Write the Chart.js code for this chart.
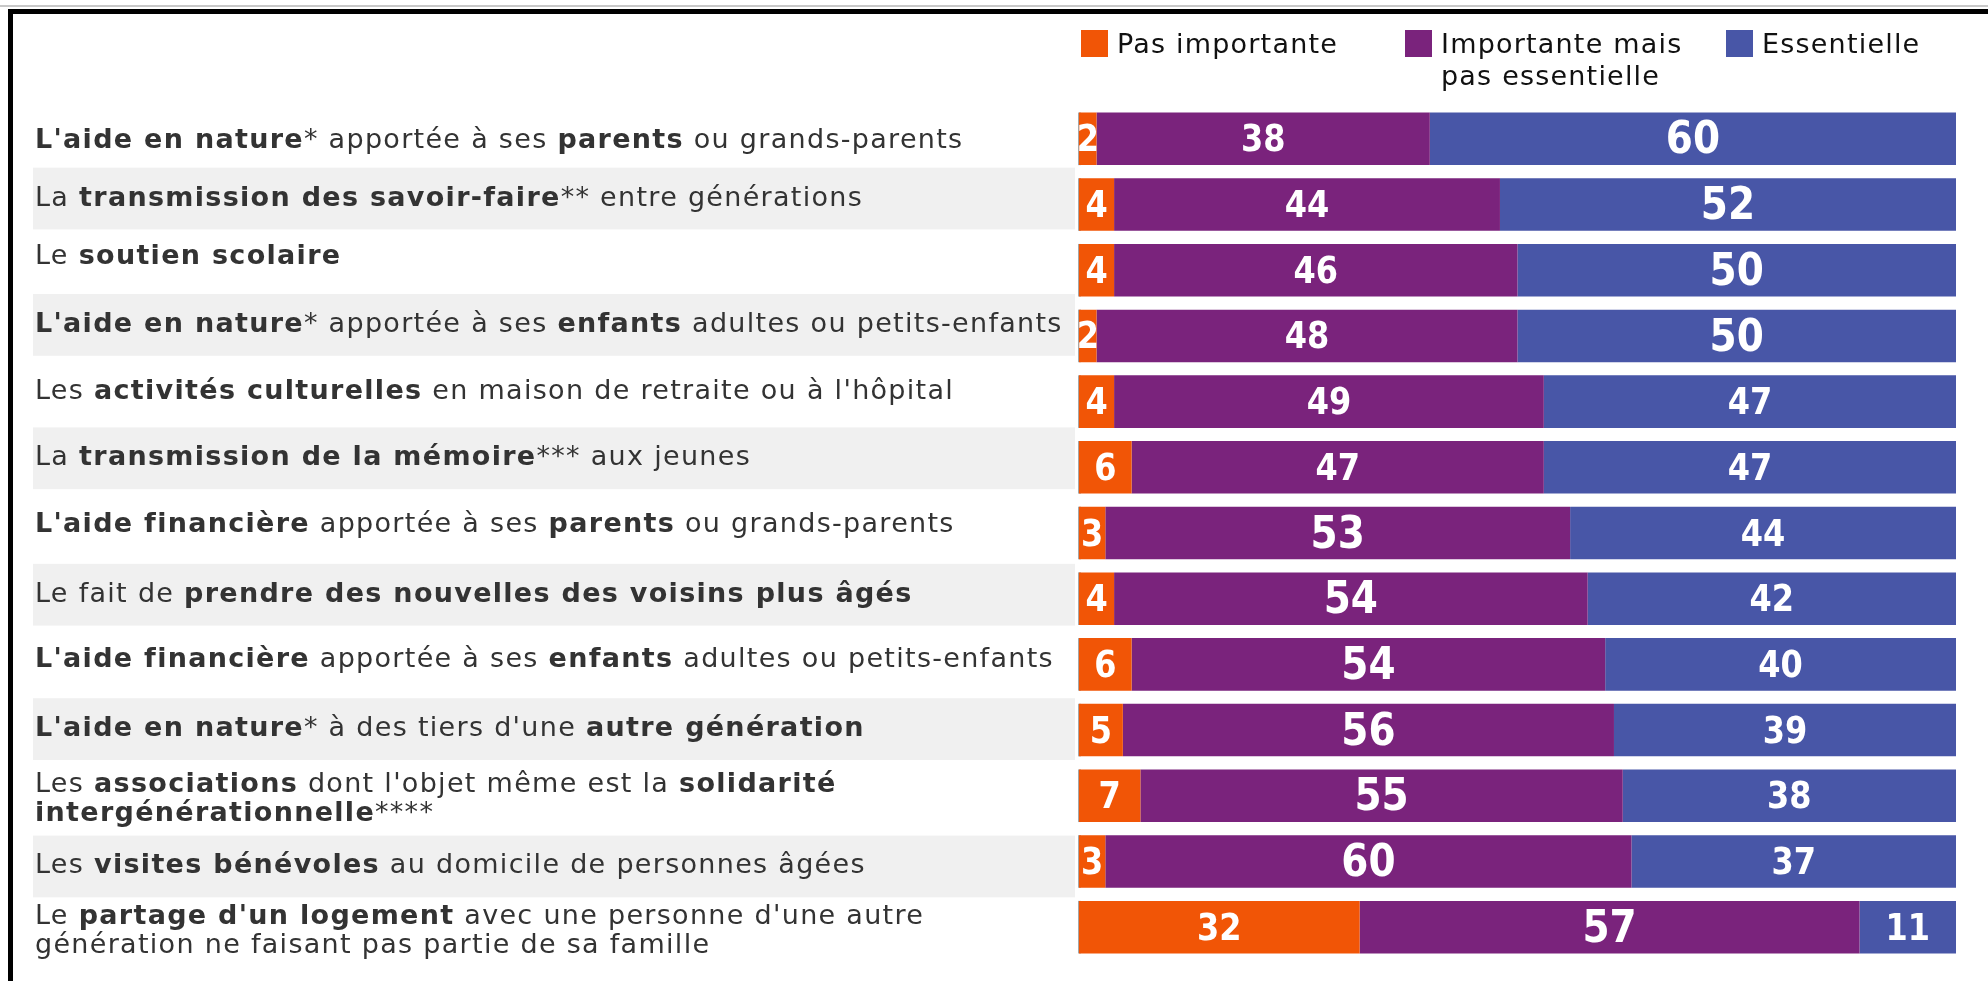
<!DOCTYPE html>
<html>
<head>
<meta charset="utf-8">
<script src="https://cdn.jsdelivr.net/npm/chart.js@4.4.0/dist/chart.umd.min.js"></script>
<style>
  html, body { margin: 0; padding: 0; background: #fff; }
  #wrap { position: relative; width: 1988px; height: 981px; overflow: hidden; }
  #topline { position: absolute; left: 0; top: 5px; width: 1988px; height: 2px; background: #c8c8c8; }
  #frame { position: absolute; left: 8px; top: 9px; width: 2000px; height: 1000px; border-top: 5px solid #000; border-left: 5px solid #000; }
  canvas { position: absolute; left: 0; top: 0; }
</style>
</head>
<body>
<div id="wrap">
  <div id="topline"></div>
  <div id="frame"></div>
  <canvas id="chart" width="1988" height="981"></canvas>
</div>
<script>
// Category labels, <b> marks the bold parts, \n a line break
const categories = [
  "<b>L'aide en nature</b>* apportée à ses <b>parents</b> ou grands-parents",
  "La <b>transmission des savoir-faire</b>** entre générations",
  "Le <b>soutien scolaire</b>",
  "<b>L'aide en nature</b>* apportée à ses <b>enfants</b> adultes ou petits-enfants",
  "Les <b>activités culturelles</b> en maison de retraite ou à l'hôpital",
  "La <b>transmission de la mémoire</b>*** aux jeunes",
  "<b>L'aide financière</b> apportée à ses <b>parents</b> ou grands-parents",
  "Le fait de <b>prendre des nouvelles des voisins plus âgés</b>",
  "<b>L'aide financière</b> apportée à ses <b>enfants</b> adultes ou petits-enfants",
  "<b>L'aide en nature</b>* à des tiers d'une <b>autre génération</b>",
  "Les <b>associations</b> dont l'objet même est la <b>solidarité\nintergénérationnelle</b>****",
  "Les <b>visites bénévoles</b> au domicile de personnes âgées",
  "Le <b>partage d'un logement</b> avec une personne d'une autre\ngénération ne faisant pas partie de sa famille"
];

const pasImportante = [2, 4, 4, 2, 4, 6, 3, 4, 6, 5, 7, 3, 32];
const importanteMais = [38, 44, 46, 48, 49, 47, 53, 54, 54, 56, 55, 60, 57];
const essentielle = [60, 52, 50, 50, 47, 47, 44, 42, 40, 39, 38, 37, 11];

const seriesNames = ['Pas importante', 'Importante mais\npas essentielle', 'Essentielle'];
const seriesColors = ['#f15506', '#7a237c', '#4856a7'];

// small vertical nudges of the row labels, the source table rows are not even
const labelShift = [2, -6, -13, -11, -10, -9, -8, -4, -4, -1, 4, 5, 4];

const LABEL_FONT = '"DejaVu Sans", Verdana, sans-serif';
const LABEL_SIZE = 27;
const SPACING = 1.3; // px between letters, Verdana-like width

function setSpacing(ctx, px) {
  if ('letterSpacing' in ctx) ctx.letterSpacing = px + 'px';
}

function drawRich(ctx, text, x, y, lineHeight) {
  const lines = text.split('\n');
  let bold = false;
  const top = y - (lines.length - 1) * lineHeight / 2;
  lines.forEach((line, li) => {
    let cx = x;
    line.split(/(<b>|<\/b>)/).forEach(p => {
      if (p === '<b>') { bold = true; return; }
      if (p === '</b>') { bold = false; return; }
      if (!p) return;
      ctx.font = (bold ? 'bold ' : '') + LABEL_SIZE + 'px ' + LABEL_FONT;
      ctx.fillText(p, cx, top + li * lineHeight);
      cx += ctx.measureText(p).width;
    });
  });
}

// Row labels + grey banding on the left
const rowLabels = {
  id: 'rowLabels',
  beforeDatasetsDraw(chart) {
    const ctx = chart.ctx;
    const y = chart.scales.y;
    const step = Math.abs(y.getPixelForValue(1) - y.getPixelForValue(0));
    ctx.save();
    chart.data.labels.forEach((lab, i) => {
      const cy = y.getPixelForValue(i) + labelShift[i];
      if (i % 2 === 1) {
        ctx.fillStyle = '#f0f0f0';
        ctx.fillRect(33, cy - step * 0.47, 1042, step * 0.94);
      }
    });
    ctx.fillStyle = '#333333';
    ctx.textAlign = 'left';
    ctx.textBaseline = 'middle';
    setSpacing(ctx, SPACING);
    chart.data.labels.forEach((lab, i) => {
      drawRich(ctx, lab, 35, y.getPixelForValue(i) + labelShift[i], 29);
    });
    // grey axis stub peeking out at the left of each bar
    ctx.fillStyle = '#a6a6a6';
    chart.getDatasetMeta(0).data.forEach(bar => {
      ctx.fillRect(chart.chartArea.left - 1, bar.y - bar.height / 2, 3, bar.height);
    });
    ctx.restore();
  }
};

// White value labels inside the segments (digits are a bit tall in the source)
const valueLabels = {
  id: 'valueLabels',
  afterDatasetsDraw(chart) {
    const ctx = chart.ctx;
    ctx.save();
    ctx.fillStyle = '#ffffff';
    ctx.textAlign = 'center';
    ctx.textBaseline = 'middle';
    chart.data.datasets.forEach((ds, di) => {
      chart.getDatasetMeta(di).data.forEach((bar, i) => {
        const v = ds.data[i];
        const size = v >= 50 ? 39 : 32;
        ctx.font = 'bold ' + size + 'px ' + LABEL_FONT;
        ctx.save();
        ctx.translate((bar.x + bar.base) / 2, bar.y + 3);
        ctx.scale(1, 1.15);
        ctx.fillText(String(v), 0, 0);
        ctx.restore();
      });
    });
    ctx.restore();
  }
};

// Legend drawn by hand to keep the two-line entry
const topLegend = {
  id: 'topLegend',
  afterDraw(chart) {
    const ctx = chart.ctx;
    const xs = [1081, 1405, 1726];
    ctx.save();
    ctx.textAlign = 'left';
    ctx.textBaseline = 'alphabetic';
    ctx.font = LABEL_SIZE + 'px ' + LABEL_FONT;
    setSpacing(ctx, 1.2);
    chart.data.datasets.forEach((ds, i) => {
      ctx.fillStyle = ds.backgroundColor;
      ctx.fillRect(xs[i], 30, 27, 27);
      ctx.fillStyle = '#111111';
      ds.label.split('\n').forEach((line, li) => {
        ctx.fillText(line, xs[i] + 36, 53 + li * 32);
      });
    });
    ctx.restore();
  }
};

const ctx = document.getElementById('chart').getContext('2d');
new Chart(ctx, {
  type: 'bar',
  data: {
    labels: categories,
    datasets: [pasImportante, importanteMais, essentielle].map((d, i) => ({
      label: seriesNames[i],
      data: d,
      backgroundColor: seriesColors[i],
      borderWidth: 0,
      barPercentage: 0.8,
      categoryPercentage: 1
    }))
  },
  options: {
    responsive: false,
    animation: false,
    indexAxis: 'y',
    layout: { padding: { left: 1079, right: 32, top: 106, bottom: 21 } },
    scales: {
      x: { stacked: true, min: 0, max: 100, display: false },
      y: { stacked: true, display: false }
    },
    plugins: {
      legend: { display: false },
      tooltip: { enabled: false }
    }
  },
  plugins: [rowLabels, valueLabels, topLegend]
});
</script>
</body>
</html>
